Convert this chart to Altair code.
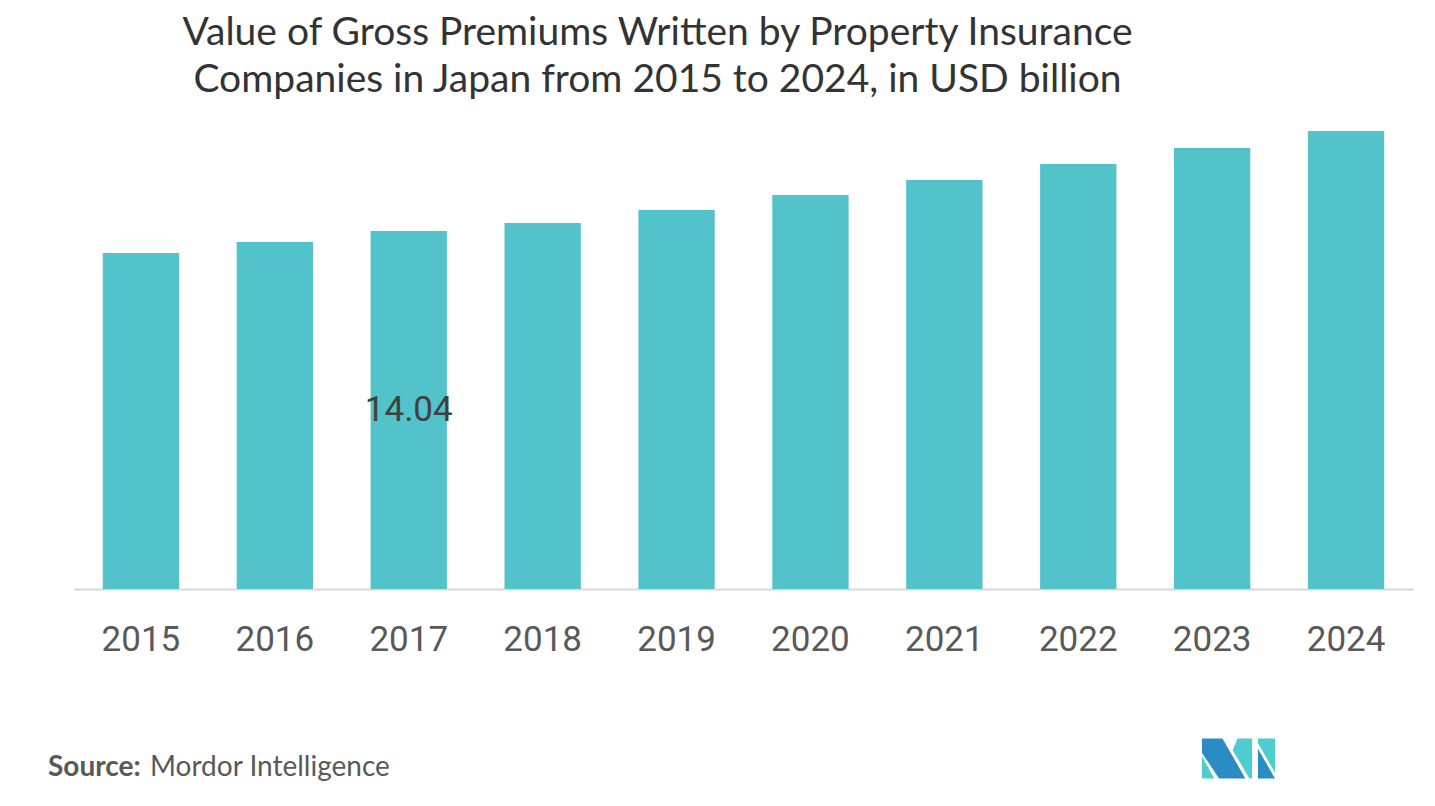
import altair as alt
import pandas as pd

years = ["2015", "2016", "2017", "2018", "2019", "2020", "2021", "2022", "2023", "2024"]
values = [13.18, 13.61, 14.04, 14.35, 14.86, 15.45, 16.04, 16.67, 17.29, 17.96]
labels = ["", "", "14.04", "", "", "", "", "", "", ""]

title_lines = ["Value of Gross Premiums Written by Property Insurance",
               "Companies in Japan from 2015 to 2024, in USD billion"]

df = pd.DataFrame({"year": years, "value": values, "label": labels})

BAR = "#52C3CA"

x_enc = alt.X("year:N", sort=years,
              scale=alt.Scale(paddingInner=0.43, paddingOuter=0.215),
              axis=alt.Axis(title=None, labelAngle=0, ticks=False, grid=False,
                            domainColor="#d9d9d9", domainWidth=2,
                            labelFont="Roboto", labelFontSize=35,
                            labelColor="#595959", labelPadding=33))
y_scale = alt.Scale(domain=[0, 18], nice=False)

bars = alt.Chart(df).mark_bar(color=BAR).encode(
    x=x_enc,
    y=alt.Y("value:Q", scale=y_scale, axis=None),
)

lab = alt.Chart(df).transform_filter("datum.label != ''").transform_calculate(
    mid="datum.value / 2"
).mark_text(font="Roboto", fontSize=35, color="#404040",
            align="center", baseline="middle").encode(
    x=alt.X("year:N", sort=years),
    y=alt.Y("mid:Q", scale=y_scale),
    text="label:N",
)

src_df = pd.DataFrame({"a": ["Source:"], "b": ["Mordor Intelligence"]})
src1 = alt.Chart(src_df).mark_text(font="Lato", fontSize=28, fontWeight="bold",
                                   color="#595959", align="left",
                                   baseline="alphabetic").encode(
    x=alt.value(-26), y=alt.value(646), text="a:N")
src2 = alt.Chart(src_df).mark_text(font="Lato", fontSize=28,
                                   color="#595959", align="left",
                                   baseline="alphabetic").encode(
    x=alt.value(76), y=alt.value(646), text="b:N")

# logo pieces, coordinates in unit square
def path(pts):
    s = "M" + " L".join(f"{(x-175)/107:.3f},{(y-116.5)/107:.3f}" for x, y in pts) + " Z"
    return s

logo_shapes = [
    (path([(68, 58), (128, 58), (195, 175), (118, 175), (68, 100)]), "#2b8cc4"),
    (path([(68, 110), (68, 175), (104, 175)]), "#4ecdd0"),
    (path([(172, 58), (215, 58), (215, 175), (207, 175), (158, 92)]), "#4ecdd0"),
    (path([(232, 58), (282, 58), (282, 158), (232, 72)]), "#4ecdd0"),
    (path([(232, 88), (282, 175), (232, 175)]), "#2b8cc4"),
]
logo_layers = []
for i, (p, c) in enumerate(logo_shapes):
    logo_layers.append(
        alt.Chart(pd.DataFrame({"k": [i]})).mark_point(
            shape=p, filled=True, color=c, opacity=1, size=5329, strokeWidth=0
        ).encode(x=alt.value(1164.5), y=alt.value(628.5))
    )

chart = alt.layer(bars, lab, src1, src2, *logo_layers).properties(
    width=1339, height=459,
    title=alt.TitleParams(text=title_lines, font="Lato", fontSize=39,
                          fontWeight="normal", color="#333333",
                          anchor="middle", dx=-86, offset=30, lineHeight=47),
    autosize=alt.AutoSizeParams(type="none"),
    padding={"left": 66, "top": 122, "right": 10, "bottom": 200},
).configure_view(stroke=None)

chart.save("out.html", embed_options={"renderer": "svg", "actions": False})
